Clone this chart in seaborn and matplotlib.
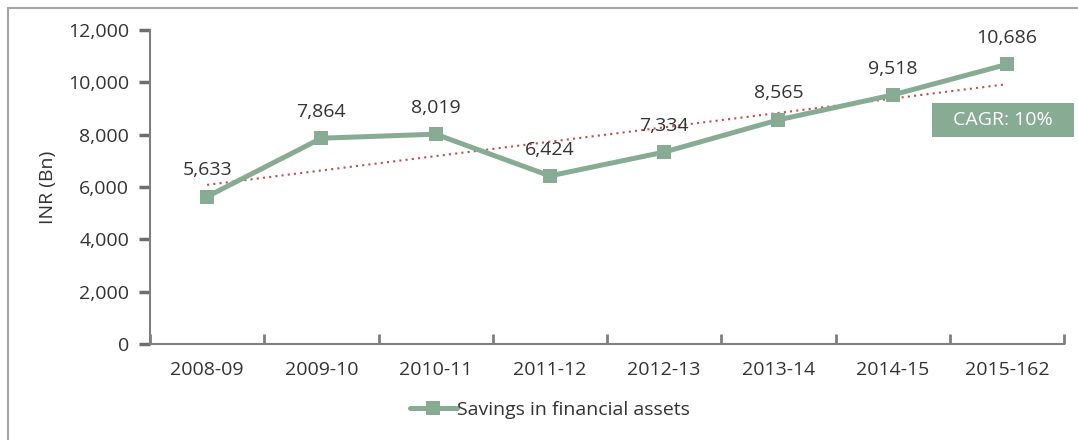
import numpy as np
import pandas as pd
import matplotlib
matplotlib.use("Agg")
import matplotlib.pyplot as plt
import seaborn as sns
from matplotlib.patches import Rectangle
from matplotlib.lines import Line2D
from matplotlib.ticker import FuncFormatter

years = ["2008-09", "2009-10", "2010-11", "2011-12", "2012-13", "2013-14", "2014-15", "2015-162"]
savings = [5633, 7864, 8019, 6424, 7334, 8565, 9518, 10686]
series_name = "Savings in financial assets"
cagr_text = "CAGR: 10%"

sns.set_style("white", {"ytick.left": True, "xtick.bottom": True})
plt.rcParams["font.family"] = ["Open Sans", "DejaVu Sans"]

GREEN = "#88ab94"
TEXT = "#333333"
AXIS = "#7f7f7f"
TICK = "#6e6e6e"
FS = 14

fig = plt.figure(figsize=(10.78, 4.40), dpi=100)
ax = fig.add_axes([150/1078, 1-344/440, (1064-150)/1078, (344-30)/440])

df = pd.DataFrame({"pos": np.arange(len(years)), "value": savings})
sns.lineplot(data=df, x="pos", y="value", ax=ax, color=GREEN, linewidth=3.6,
             marker="s", markersize=10.5, markeredgewidth=0, zorder=3)

# linear trend line
coef = np.polyfit(df["pos"], df["value"], 1)
xt = np.array([0, len(years) - 1])
ax.plot(xt, np.polyval(coef, xt), linestyle=(0, (1, 2)), color="#c0504d", linewidth=1.5, zorder=2)

for x, v in zip(df["pos"], savings):
    ax.annotate(f"{v:,}", (x, v), xytext=(0, 19), textcoords="offset points",
                ha="center", va="center", fontsize=FS, color=TEXT)

ax.set_xlim(-0.5, len(years) - 0.5)
ax.set_ylim(0, 12000)
ax.set_yticks(np.arange(0, 12001, 2000))
ax.yaxis.set_major_formatter(FuncFormatter(lambda v, p: f"{int(v):,}"))
ax.set_xticks(range(len(years)))
ax.set_xticklabels(years)
ax.set_xticks(np.arange(-0.5, len(years), 1.0), minor=True)
ax.set_xlabel("")
ax.set_ylabel("INR (Bn)", fontsize=FS, color=TEXT, labelpad=8)

for s in ["top", "right"]:
    ax.spines[s].set_visible(False)
for s in ["left", "bottom"]:
    ax.spines[s].set_color(AXIS)
    ax.spines[s].set_linewidth(1.5)

ax.tick_params(axis="x", which="major", bottom=True, length=0, pad=12, labelsize=FS, labelcolor=TEXT)
ax.tick_params(axis="x", which="minor", bottom=True, length=7, width=2, color=AXIS, direction="in")
ax.tick_params(axis="y", which="major", left=True, length=8, width=2.5, color=TICK, direction="out",
               pad=7, labelsize=FS, labelcolor=TEXT)

# CAGR box
x0, x1 = (932-150)/914, (1074-150)/914
y0, y1 = (344-137)/314, (344-103)/314
ax.add_patch(Rectangle((x0, y0), x1-x0, y1-y0, transform=ax.transAxes, facecolor=GREEN,
                       edgecolor="none", clip_on=False, zorder=5))
ax.text((x0+x1)/2, (y0+y1)/2, cagr_text, transform=ax.transAxes,
        ha="center", va="center", fontsize=FS, color="white", zorder=6)

handle = Line2D([], [], color=GREEN, linewidth=3.6, marker="s", markersize=10.5, markeredgewidth=0)
fig.legend([handle], [series_name], loc="center", bbox_to_anchor=(0.51, 1-410/440),
           frameon=False, fontsize=FS, handlelength=2.4, handletextpad=0.0,
           labelcolor=TEXT)

# outer frame (cropped at right/bottom)
fig.add_artist(Rectangle((8/1078, -0.1), 1.2, 1-8/440+0.1, transform=fig.transFigure,
                         fill=False, edgecolor="#a6a6a6", linewidth=1.5))

fig.savefig("out.png", dpi=100)
